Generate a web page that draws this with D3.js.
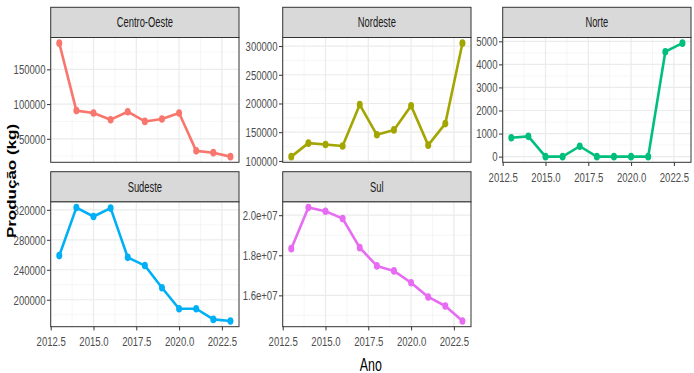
<!DOCTYPE html>
<html>
<head>
<meta charset="utf-8">
<script src="https://cdn.jsdelivr.net/npm/d3@7/dist/d3.min.js"></script>
<style>
  body { margin: 0; background: #fff; }
  text { font-family: "Liberation Sans", Arial, sans-serif; }
  .tick-label { font-size: 13.5px; fill: #4d4d4d; }
  .strip-label { font-size: 14px; fill: #1a1a1a; }
</style>
</head>
<body>
<svg id="chart" width="694" height="373"></svg>
<script>
const anos = [2013, 2014, 2015, 2016, 2017, 2018, 2019, 2020, 2021, 2022, 2023];
const regioes = ["Centro-Oeste", "Nordeste", "Norte", "Sudeste", "Sul"];
const cores = ["#F8766D", "#A3A500", "#00BF7D", "#00B0F6", "#E76BF3"];

// producao (kg) por regiao
const centroOeste = [187700, 90600, 87200, 77500, 89000, 75000, 78500, 87200, 32600, 30000, 24300];
const nordeste = [107500, 131000, 128500, 126000, 198000, 145500, 154000, 196000, 127500, 165000, 305000];
const norte = [820, 880, 0, 0, 450, 0, 0, 0, 0, 4550, 4920];
const sudeste = [258900, 323000, 311100, 322300, 256600, 245600, 216000, 188000, 188000, 173800, 171600];
const sul = [18330000, 20380000, 20200000, 19830000, 18380000, 17470000, 17220000, 16630000, 15920000, 15470000, 14720000];

const xTicks = [2012.5, 2015, 2017.5, 2020, 2022.5];
const yTicks = [
  [50000, 100000, 150000],
  [100000, 150000, 200000, 250000, 300000],
  [0, 1000, 2000, 3000, 4000, 5000],
  [200000, 240000, 280000, 320000],
  [16000000, 18000000, 20000000],
];
const yTickLabels = [
  ["50000", "100000", "150000"],
  ["100000", "150000", "200000", "250000", "300000"],
  ["0", "1000", "2000", "3000", "4000", "5000"],
  ["200000", "240000", "280000", "320000"],
  ["1.6e+07", "1.8e+07", "2.0e+07"],
];
const series = [centroOeste, nordeste, norte, sudeste, sul];

const colLeft = [50.7, 282.7, 502.7];
const rowTop = [7.3, 171.7];
const panelW = 188.3;
const stripH = 30.2;
const panelH = 124.8;
const sx = 0.71; // the source image is squeezed horizontally

const svg = d3.select("#chart");

// ggplot style 5% expansion
const expand = ([lo, hi], f) => [lo - (hi - lo) * f, hi + (hi - lo) * f];

// squeeze text horizontally, keeping its anchor point
const squeeze = (k) => (sel) =>
  sel.each(function () {
    const t = d3.select(this);
    const x0 = +t.attr("x") || 0;
    t.attr("x", x0 / k).attr("transform", `scale(${k},1)`);
  });

const x = d3.scaleLinear().domain(expand(d3.extent(anos), 0.05)).range([0, panelW]);
const xMinor = xTicks.slice(0, -1).map((t) => t + 1.25);

regioes.forEach((nome, i) => {
  const col = i % 3;
  const row = Math.floor(i / 3);
  const left = colLeft[col];
  const top = rowTop[row] + stripH;
  const valores = series[i];
  const y = d3.scaleLinear().domain(expand(d3.extent(valores), 0.05)).range([panelH, 0]);
  const dom = y.domain();
  const ticks = yTicks[i];
  const step = ticks[1] - ticks[0];
  const yMinor = d3.range(-1, ticks.length).map((k) => ticks[0] + step * k + step / 2)
    .filter((v) => v > dom[0] && v < dom[1]);

  // strip
  const strip = svg.append("g").attr("transform", `translate(${left},${rowTop[row]})`);
  strip.append("rect")
    .attr("width", panelW).attr("height", stripH)
    .attr("fill", "#d9d9d9").attr("stroke", "#333").attr("stroke-width", 1);
  strip.append("text")
    .attr("class", "strip-label")
    .attr("x", panelW / 2).attr("y", stripH / 2).attr("dy", "0.35em")
    .attr("text-anchor", "middle")
    .text(nome)
    .call(squeeze(0.67));

  const g = svg.append("g").attr("transform", `translate(${left},${top})`);
  g.append("rect").attr("width", panelW).attr("height", panelH).attr("fill", "#fff");

  // grid
  g.selectAll(".ymin").data(yMinor).enter().append("line")
    .attr("x1", 0).attr("x2", panelW).attr("y1", (d) => y(d)).attr("y2", (d) => y(d))
    .attr("stroke", "#f2f2f2").attr("stroke-width", 0.7);
  g.selectAll(".xmin").data(xMinor).enter().append("line")
    .attr("y1", 0).attr("y2", panelH).attr("x1", (d) => x(d)).attr("x2", (d) => x(d))
    .attr("stroke", "#f2f2f2").attr("stroke-width", 0.7);
  g.selectAll(".ymaj").data(ticks).enter().append("line")
    .attr("x1", 0).attr("x2", panelW).attr("y1", (d) => y(d)).attr("y2", (d) => y(d))
    .attr("stroke", "#ebebeb").attr("stroke-width", 1.2);
  g.selectAll(".xmaj").data(xTicks).enter().append("line")
    .attr("y1", 0).attr("y2", panelH).attr("x1", (d) => x(d)).attr("x2", (d) => x(d))
    .attr("stroke", "#ebebeb").attr("stroke-width", 1.2);

  // line + points
  const dados = anos.map((a, k) => ({ ano: a, v: valores[k] }));
  g.append("path")
    .datum(dados)
    .attr("fill", "none")
    .attr("stroke", cores[i])
    .attr("stroke-width", 2.6)
    .attr("stroke-linejoin", "round")
    .attr("d", d3.line().x((d) => x(d.ano)).y((d) => y(d.v)));
  g.selectAll(".pt").data(dados).enter().append("ellipse")
    .attr("cx", (d) => x(d.ano)).attr("cy", (d) => y(d.v))
    .attr("rx", 3).attr("ry", 3.8)
    .attr("fill", cores[i]);

  g.append("rect").attr("width", panelW).attr("height", panelH)
    .attr("fill", "none").attr("stroke", "#333").attr("stroke-width", 1);

  // y axis
  const yAxis = g.append("g").call(
    d3.axisLeft(y).tickValues(ticks).tickSize(3.7).tickPadding(1.5)
      .tickFormat((d, k) => yTickLabels[i][k])
  );
  yAxis.select(".domain").remove();
  yAxis.selectAll("line").attr("stroke", "#333");
  yAxis.selectAll("text").attr("class", "tick-label")
    .attr("fill", null).attr("font-size", null).attr("font-family", null)
    .call(squeeze(sx));

  // x axis only on the bottom panel of each column
  if (row === 1 || col === 2) {
    const xAxis = g.append("g").attr("transform", `translate(0,${panelH})`).call(
      d3.axisBottom(x).tickValues(xTicks).tickSize(3.7).tickPadding(6)
        .tickFormat(d3.format(".1f"))
    );
    xAxis.select(".domain").remove();
    xAxis.selectAll("line").attr("stroke", "#333");
    xAxis.selectAll("text").attr("class", "tick-label")
      .attr("fill", null).attr("font-size", null).attr("font-family", null)
      .call(squeeze(sx));
  }
});

// axis titles
svg.append("text")
  .attr("transform", `translate(16,181) rotate(-90) scale(1,${sx})`)
  .attr("text-anchor", "middle")
  .attr("font-weight", "bold")
  .attr("font-size", 17)
  .attr("fill", "#000")
  .text("Produção (kg)");

svg.append("text")
  .attr("transform", `translate(${(colLeft[0] + colLeft[2] + panelW) / 2},371) scale(${sx},1)`)
  .attr("text-anchor", "middle")
  .attr("font-size", 17.5)
  .attr("fill", "#000")
  .text("Ano");
</script>
</body>
</html>
